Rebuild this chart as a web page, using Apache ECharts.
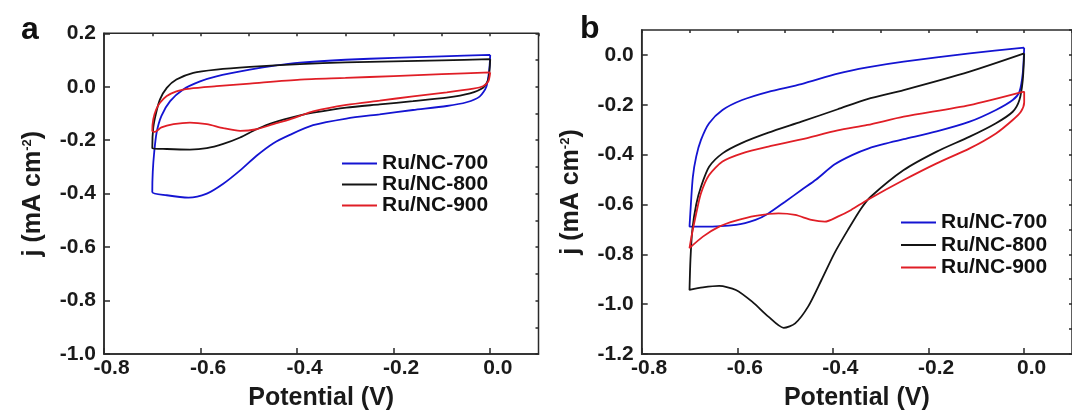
<!DOCTYPE html>
<html>
<head>
<meta charset="utf-8">
<script src="https://cdn.jsdelivr.net/npm/echarts@6/dist/echarts.min.js"></script>
<style>
html,body{margin:0;padding:0;background:#fff;}
#c{width:1072px;height:416px;}
</style>
</head>
<body>
<div id="c"></div>
<script>
// ---- data (Potential V, j mA cm^-2) ----
const seriesNames = ['Ru/NC-700', 'Ru/NC-800', 'Ru/NC-900'];

const a700 = [[0.0,0.119],[-0.1,0.114],[-0.2,0.108],[-0.3,0.101],[-0.394,0.090],[-0.45,0.078],[-0.498,0.064],[-0.567,0.039],[-0.601,0.020],[-0.636,-0.010],[-0.663,-0.054],[-0.681,-0.109],[-0.691,-0.171],[-0.696,-0.245],[-0.699,-0.319],[-0.70,-0.394],
  [-0.67,-0.406],[-0.625,-0.415],[-0.587,-0.400],[-0.553,-0.363],[-0.518,-0.313],[-0.484,-0.258],[-0.449,-0.211],[-0.415,-0.180],[-0.367,-0.144],[-0.298,-0.119],[-0.229,-0.103],[-0.160,-0.087],[-0.090,-0.072],[-0.049,-0.058],[-0.022,-0.037],[-0.008,0.0],[-0.002,0.064],[0.0,0.119]];
const a800 = [[0.0,0.103],[-0.1,0.099],[-0.2,0.095],[-0.3,0.091],[-0.394,0.085],[-0.498,0.074],[-0.567,0.064],[-0.615,0.052],[-0.650,0.027],[-0.670,-0.004],[-0.684,-0.047],[-0.692,-0.097],[-0.698,-0.153],[-0.70,-0.230],
  [-0.670,-0.233],[-0.622,-0.235],[-0.587,-0.230],[-0.553,-0.214],[-0.518,-0.190],[-0.484,-0.159],[-0.449,-0.134],[-0.394,-0.107],[-0.367,-0.097],[-0.298,-0.078],[-0.229,-0.066],[-0.160,-0.054],[-0.090,-0.041],[-0.042,-0.025],[-0.015,-0.004],[-0.004,0.027],[0.0,0.103]];
const a900 = [[0.0,0.054],[-0.1,0.047],[-0.2,0.040],[-0.3,0.033],[-0.394,0.027],[-0.498,0.012],[-0.567,0.002],[-0.622,-0.007],[-0.650,-0.017],[-0.670,-0.035],[-0.684,-0.060],[-0.692,-0.085],[-0.698,-0.122],[-0.70,-0.165],
  [-0.695,-0.169],[-0.681,-0.152],[-0.656,-0.140],[-0.622,-0.134],[-0.587,-0.140],[-0.553,-0.155],[-0.518,-0.165],[-0.484,-0.159],[-0.449,-0.140],[-0.415,-0.122],[-0.394,-0.109],[-0.367,-0.092],[-0.298,-0.068],[-0.229,-0.052],[-0.160,-0.036],[-0.090,-0.021],[-0.035,-0.007],[-0.015,0.002],[-0.004,0.020],[0.0,0.054]];

const b700 = [[0.0,0.029],[-0.114,0.006],[-0.252,-0.027],[-0.328,-0.050],[-0.39,-0.075],[-0.466,-0.117],[-0.535,-0.148],[-0.590,-0.181],[-0.631,-0.221],[-0.659,-0.274],[-0.676,-0.341],[-0.686,-0.408],[-0.693,-0.489],[-0.697,-0.595],[-0.70,-0.689],
  [-0.672,-0.689],[-0.603,-0.682],[-0.562,-0.662],[-0.535,-0.636],[-0.500,-0.589],[-0.466,-0.542],[-0.435,-0.500],[-0.397,-0.440],[-0.360,-0.402],[-0.325,-0.375],[-0.290,-0.356],[-0.252,-0.338],[-0.183,-0.307],[-0.114,-0.268],[-0.059,-0.221],[-0.024,-0.181],[-0.010,-0.148],[-0.003,-0.074],[0.0,0.029]];
const b800 = [[0.0,0.006],[-0.114,-0.067],[-0.252,-0.141],[-0.328,-0.177],[-0.39,-0.218],[-0.466,-0.268],[-0.535,-0.312],[-0.590,-0.353],[-0.631,-0.395],[-0.659,-0.449],[-0.676,-0.529],[-0.686,-0.600],[-0.694,-0.700],[-0.698,-0.820],[-0.70,-0.943],
  [-0.672,-0.933],[-0.638,-0.927],[-0.603,-0.943],[-0.569,-0.990],[-0.535,-1.050],[-0.503,-1.095],[-0.479,-1.077],[-0.452,-1.010],[-0.424,-0.903],[-0.397,-0.796],[-0.369,-0.703],[-0.341,-0.616],[-0.321,-0.569],[-0.252,-0.462],[-0.183,-0.388],[-0.114,-0.328],[-0.059,-0.274],[-0.024,-0.228],[-0.010,-0.181],[-0.003,-0.101],[0.0,0.006]];
const b900 = [[-0.003,-0.148],[-0.114,-0.201],[-0.252,-0.248],[-0.328,-0.281],[-0.39,-0.303],[-0.466,-0.339],[-0.535,-0.368],[-0.590,-0.395],[-0.631,-0.428],[-0.659,-0.482],[-0.676,-0.555],[-0.686,-0.636],[-0.695,-0.720],[-0.70,-0.775],
  [-0.672,-0.729],[-0.638,-0.689],[-0.603,-0.665],[-0.562,-0.646],[-0.514,-0.636],[-0.479,-0.642],[-0.445,-0.662],[-0.417,-0.669],[-0.390,-0.649],[-0.362,-0.622],[-0.328,-0.582],[-0.252,-0.502],[-0.183,-0.435],[-0.114,-0.375],[-0.059,-0.315],[-0.024,-0.261],[-0.007,-0.228],[0.0,-0.190],[0.0,-0.148],[-0.003,-0.148]];

// ---- style ----
const FONT = "'Liberation Sans', Arial, Helvetica, sans-serif";
const AX = '#2a2a2a';
const TXT = '#1a1a1a';
const COLORS = ['#1414d2', '#141414', '#e01e26'];

function majorX(gi){
  return {gridIndex:gi, type:'value', min:-0.8, max:0.1, interval:0.2,
    axisLine:{show:true, onZero:false, lineStyle:{color:AX, width:1.5}},
    axisTick:{show:true, inside:true, length:6, lineStyle:{color:AX, width:1.5}},
    axisLabel:{showMaxLabel:false, margin:4, padding:[0,0,0,15], color:TXT, fontFamily:FONT, fontWeight:'bold', fontSize:21,
      formatter:v=>v.toFixed(1)},
    splitLine:{show:false},
    name:'Potential (V)', nameLocation:'middle', nameGap:32,
    nameTextStyle:{color:TXT, fontFamily:FONT, fontWeight:'bold', fontSize:25}};
}
function minorX(gi){
  return {gridIndex:gi, type:'value', min:-0.8, max:0.1, interval:0.1,
    axisLine:{show:false, onZero:false}, axisTick:{show:true, inside:true, length:3, lineStyle:{color:AX, width:1.5}},
    axisLabel:{show:false}, splitLine:{show:false}};
}
function majorY(gi, mn, mx, showMax){
  return {gridIndex:gi, type:'value', min:mn, max:mx, interval:0.2,
    axisLine:{show:true, onZero:false, lineStyle:{color:AX, width:1.5}},
    axisTick:{show:true, inside:true, length:6, lineStyle:{color:AX, width:1.5}},
    axisLabel:{showMaxLabel:showMax, margin:8, color:TXT, fontFamily:FONT, fontWeight:'bold', fontSize:21,
      formatter:v=>v.toFixed(1)},
    splitLine:{show:false},
    name:'j (mA cm{sup|-2})', nameLocation:'middle', nameGap:58,
    nameTextStyle:{color:TXT, fontFamily:FONT, fontWeight:'bold', fontSize:25,
      rich:{sup:{fontFamily:FONT, fontWeight:'bold', fontSize:13, color:TXT, padding:[0,0,12,0]}}}};
}
function minorY(gi, mn, mx){
  return {gridIndex:gi, type:'value', min:mn, max:mx, interval:0.1,
    axisLine:{show:false, onZero:false}, axisTick:{show:true, inside:true, length:3, lineStyle:{color:AX, width:1.5}},
    axisLabel:{show:false}, splitLine:{show:false}};
}
function mkSeries(name, data, xi, yi, color){
  return {name, type:'line', data, xAxisIndex:xi, yAxisIndex:yi, smooth:0.25,
    symbol:'none', showSymbol:false, clip:true,
    lineStyle:{color, width:1.8}, itemStyle:{color}};
}
const legendCommon = {orient:'vertical', icon:'rect', itemWidth:35, itemHeight:2,
  textStyle:{color:'#111', fontFamily:FONT, fontWeight:'bold', fontSize:21}};

const option = {
  animation:false,
  backgroundColor:'#fff',
  title:[
    {text:'a', left:16, top:9, textStyle:{fontFamily:FONT, fontWeight:'bold', fontSize:32, color:'#111'}},
    {text:'b', left:575, top:8, textStyle:{fontFamily:FONT, fontWeight:'bold', fontSize:32, color:'#111'}}
  ],
  grid:[
    {left:104, top:33.3, width:434.5, height:323.4, show:true, borderColor:AX, borderWidth:1.5, backgroundColor:'transparent'},
    {left:641.7, top:30, width:434, height:324, show:true, borderColor:AX, borderWidth:1.5, backgroundColor:'transparent'}
  ],
  xAxis:[majorX(0), minorX(0), majorX(1), minorX(1)],
  yAxis:[majorY(0,-1.0,0.2,true), minorY(0,-1.0,0.2), majorY(1,-1.2,0.1,false), minorY(1,-1.2,0.1)],
  legend:[
    Object.assign({left:337, top:148, itemGap:0}, legendCommon, {data:seriesNames.map(n=>({name:n}))}),
    Object.assign({left:896, top:207, itemGap:1.5}, legendCommon, {data:seriesNames.map(n=>({name:n+' '}))})
  ],
  series:[
    mkSeries(seriesNames[0], a700, 0, 0, COLORS[0]),
    mkSeries(seriesNames[1], a800, 0, 0, COLORS[1]),
    mkSeries(seriesNames[2], a900, 0, 0, COLORS[2]),
    mkSeries(seriesNames[0]+' ', b700, 2, 2, COLORS[0]),
    mkSeries(seriesNames[1]+' ', b800, 2, 2, COLORS[1]),
    mkSeries(seriesNames[2]+' ', b900, 2, 2, COLORS[2])
  ]
};
const chart = echarts.init(document.getElementById('c'), null, {renderer:'canvas'});
chart.setOption(option);
</script>
</body>
</html>
